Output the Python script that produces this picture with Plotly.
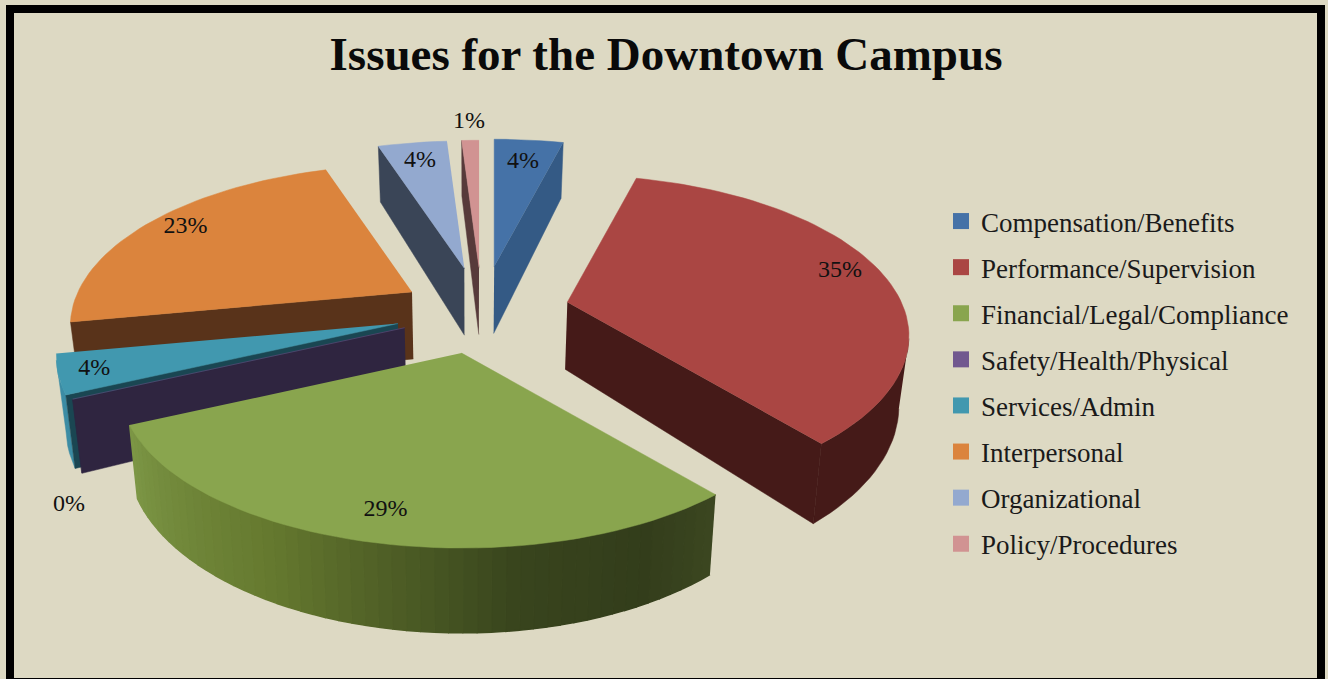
import numpy as np
import plotly.graph_objects as go

# ---- data
categories = ["Compensation/Benefits", "Performance/Supervision", "Financial/Legal/Compliance",
              "Safety/Health/Physical", "Services/Admin", "Interpersonal", "Organizational", "Policy/Procedures"]
values = [4, 35, 29, 0.05, 3.95, 23, 4, 1]
percent_labels = ["4%", "35%", "29%", "0%", "4%", "23%", "4%", "1%"]
title_text = "Issues for the Downtown Campus"

# ---- style
top_colors = ["#4572A7", "#AA4643", "#89A54E", "#71588F", "#4198AF", "#DB843D", "#93A9CF", "#D19392"]
wall_colors = ["#345A85", "#451A18", "#363F1C", "#2F2540", "#1A4652", "#59331A", "#3A4557", "#573A3A"]
arc_colors = ["#345A85", "#451A18", "#363F1C", "#2F2540", "#3C8CA4", "#59331A", "#3A4557", "#573A3A"]
pull = [0.31, 0.265, 0.265, 0.25, 0.26, 0.25, 0.30, 0.30]
label_radius = [0.80, 0.87, 0.86, 1.01, 0.90, 0.86, 0.83, 1.18]
label_drop = [0, -3, 0, 105, 0, -3, 0, 0]
draw_order = [7, 6, 0, 5, 4, 3, 1, 2]

CX, CY, A, B, K, DEPTH, XC, SHRINK = 482, 311, 334, 154, 0.21, 67, 470, 0.977
W, H = 1328, 679


def project(theta, r=1.0):
    X, Y = r * np.sin(theta), r * np.cos(theta)
    d = 1 + K * Y
    return A * X / d, -B * Y / d, DEPTH / d


def hexmix(c1, c2, t):
    a = [int(c1[i:i + 2], 16) for i in (1, 3, 5)]
    b = [int(c2[i:i + 2], 16) for i in (1, 3, 5)]
    return "#" + "".join(f"{round(a[i] + (b[i] - a[i]) * t):02X}" for i in range(3))


def green_shade(t):
    stops = [(0, "#7C9645"), (0.35, "#65792F"), (0.7, "#38441D"), (0.88, "#333D1B"), (1, "#3B4620")]
    for (t0, c0), (t1, c1) in zip(stops, stops[1:]):
        if t <= t1:
            return hexmix(c0, c1, (t - t0) / (t1 - t0))
    return stops[-1][1]


fig = go.Figure()


def poly(xs, ys, color, hover, width=0.5):
    fig.add_trace(go.Scatter(x=list(xs), y=list(ys), mode="lines", fill="toself", fillcolor=color,
                             line=dict(color=color, width=width), showlegend=False,
                             hoverinfo="text", text=hover))


def bottom(x, y, d):
    return XC + (x - XC) * SHRINK, y + d


frac = np.cumsum([0] + values) / sum(values)
labels_x, labels_y = [], []
for i in range(len(values)):
    t0, t1 = 2 * np.pi * frac[i], 2 * np.pi * frac[i + 1]
    tm = (t0 + t1) / 2
    ax, ay, _ = project(tm, pull[i])
    lx, ly, _ = project(tm, label_radius[i])
    labels_x.append(CX + ax + lx)
    labels_y.append(CY + ay + ly + label_drop[i])

for i in draw_order:
    t0, t1 = 2 * np.pi * frac[i], 2 * np.pi * frac[i + 1]
    tm = (t0 + t1) / 2
    ax, ay, _ = project(tm, pull[i])
    ax += CX
    ay += CY
    th = np.linspace(t0, t1, max(3, int((t1 - t0) * 30)))
    px, py, pd = project(th)
    x, y = ax + px, ay + py
    bx, by = bottom(x, y, pd)
    abx, aby = bottom(ax, ay, DEPTH)
    name = categories[i]
    # outer rim: front-facing part only
    front = np.where(np.diff(x) < 0)[0]
    if len(front):
        if i == 2:
            for n, j in enumerate(front):
                col = green_shade(1 - n / max(1, len(front) - 1))
                poly([x[j], x[j + 1], bx[j + 1], bx[j]], [y[j], y[j + 1], by[j + 1], by[j]], col, name, 1.5)
        else:
            idx = np.r_[front, front[-1] + 1]
            poly(np.r_[x[idx], bx[idx][::-1]], np.r_[y[idx], by[idx][::-1]], arc_colors[i], name)
    # radial walls: only those whose lower edge leaves the top face
    cx_, cy_ = (ax + x.mean()) / 2, (ay + y.mean()) / 2
    for e in (0, -1):
        ex, ey = x[e] - ax, y[e] - ay
        if ex * DEPTH * (ex * (cy_ - ay) - ey * (cx_ - ax)) < 0:
            poly([ax, x[e], bx[e], abx], [ay, y[e], by[e], aby], wall_colors[i], name)
    poly(np.r_[ax, x], np.r_[ay, y], top_colors[i], name)

fig.add_trace(go.Scatter(x=labels_x, y=labels_y, mode="text", text=percent_labels, showlegend=False,
                         textposition="middle center", hoverinfo="skip",
                         textfont=dict(family="Liberation Serif", size=24, color="#111111")))

for i, name in enumerate(categories):
    fig.add_trace(go.Scatter(x=[None], y=[None], mode="markers", name=name, legendgroup=name,
                             marker=dict(symbol="square", size=16, color=top_colors[i])))

fig.update_layout(
    width=W, height=H, margin=dict(l=0, r=0, t=0, b=0), autosize=False,
    paper_bgcolor="#C4BD97", plot_bgcolor="#DDD9C3",
    xaxis=dict(range=[0, W], visible=False, fixedrange=True, domain=[0, 1]),
    yaxis=dict(range=[H, 0], visible=False, fixedrange=True, domain=[0, 1]),
    title=dict(text=f"<b>{title_text}</b>", x=666 / W, xanchor="center", y=1 - 54 / H, yanchor="middle",
               font=dict(family="Liberation Serif", size=47, color="#0A0A0A")),
    legend=dict(x=941 / W, xanchor="left", y=1 - 197 / H, yanchor="top", bgcolor="rgba(0,0,0,0)",
                font=dict(family="Liberation Serif", size=27, color="#1A1A1A"), tracegroupgap=8,
                itemsizing="trace", itemclick=False, itemdoubleclick=False),
    shapes=[dict(type="rect", xref="x", yref="y", x0=10, y0=9, x1=1321, y1=682,
                 line=dict(color="#000000", width=8), fillcolor="#DDD9C3", layer="below")],
    showlegend=True, hovermode="closest",
)
fig.write_html("out.html", config={"displayModeBar": False},
               post_script="document.body.style.margin='0';document.documentElement.style.overflow='hidden';")
